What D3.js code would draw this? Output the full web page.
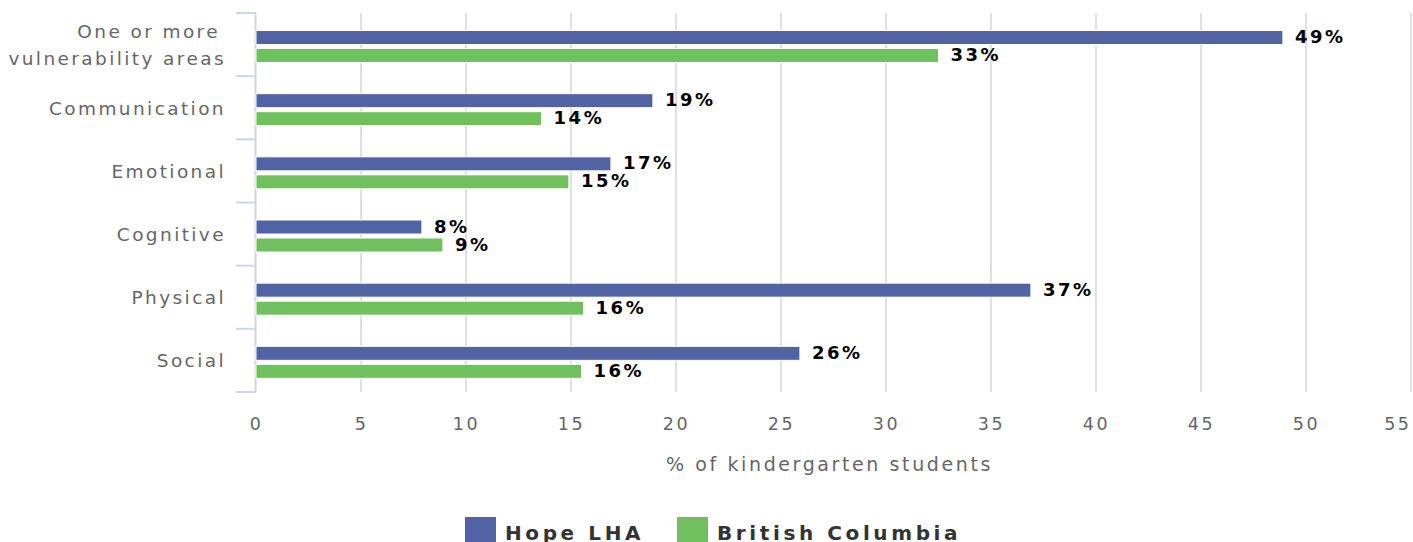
<!DOCTYPE html>
<html>
<head>
<meta charset="utf-8">
<script src="https://cdn.jsdelivr.net/npm/d3@7"></script>
<style>
  body { margin: 0; background: #fff; }
  svg { font-family: "DejaVu Sans", Verdana, sans-serif; }
</style>
</head>
<body>
<script>
// data
var categories = [["One or more", "vulnerability areas"], ["Communication"], ["Emotional"], ["Cognitive"], ["Physical"], ["Social"]];
var seriesNames = ["Hope LHA", "British Columbia"];
var hopeValues = [48.9, 18.9, 16.9, 7.9, 36.9, 25.9];
var bcValues = [32.5, 13.6, 14.9, 8.9, 15.6, 15.5];
var xTicks = [0, 5, 10, 15, 20, 25, 30, 35, 40, 45, 50, 55];
var colors = ["#5263a5", "#71c05f"];

var width = 1413, height = 542;
var plotLeft = 256, plotRight = 1411, plotTop = 13, plotBottom = 392;

var svg = d3.select("body").append("svg")
    .attr("width", width)
    .attr("height", height);

var xMap = d3.scaleLinear().domain([0, 55]).range([plotLeft, plotRight]);
var yMap = d3.scaleBand().domain(d3.range(categories.length)).range([plotTop, plotBottom]);
var bw = yMap.bandwidth();

// grid lines
svg.append("g").selectAll("line")
    .data(xTicks.slice(1))
  .enter().append("line")
    .attr("x1", d => xMap(d)).attr("x2", d => xMap(d))
    .attr("y1", plotTop).attr("y2", plotBottom)
    .attr("stroke", "#e0e0e0")
    .attr("stroke-width", 2);

// x tick labels
var xAxis = d3.axisBottom(xMap).tickValues(xTicks).tickSize(0).tickPadding(0);
var xg = svg.append("g")
    .attr("transform", "translate(0," + (plotBottom + 38) + ")")
    .call(xAxis);
xg.select(".domain").remove();
xg.selectAll("text")
    .attr("dy", 0)
    .attr("y", 0)
    .style("font-family", "DejaVu Sans, sans-serif")
    .style("font-size", "17.5px")
    .style("letter-spacing", "2.5px")
    .attr("fill", "#666");
xg.selectAll(".tick").filter(d => d === 55).select("text")
    .attr("text-anchor", "end")
    .attr("x", 0);

svg.append("text")
    .attr("x", xMap(27.5) - 4)
    .attr("y", 471)
    .attr("text-anchor", "middle")
    .attr("fill", "#666")
    .style("font-size", "19px")
    .style("letter-spacing", "2.6px")
    .text("% of kindergarten students");

// y axis line + ticks
svg.append("line")
    .attr("x1", plotLeft - 0.5).attr("x2", plotLeft - 0.5)
    .attr("y1", plotTop).attr("y2", plotBottom)
    .attr("stroke", "#ccd6eb").attr("stroke-width", 2);
svg.append("g").selectAll("line")
    .data(d3.range(categories.length + 1))
  .enter().append("line")
    .attr("x1", plotLeft - 20).attr("x2", plotLeft)
    .attr("y1", d => plotTop + d * bw).attr("y2", d => plotTop + d * bw)
    .attr("stroke", "#ccd6eb").attr("stroke-width", 2);

// category labels
var cat = svg.append("g").selectAll("text")
    .data(categories)
  .enter().append("text")
    .attr("text-anchor", "end")
    .attr("fill", "#666")
    .style("font-size", "18.5px")
    .style("letter-spacing", "2.4px")
    .attr("transform", (d, i) => "translate(226," + (yMap(i) + bw / 2 + 7) + ")");
cat.selectAll("tspan")
    .data(d => d.map((t, j) => ({t: t, j: j, n: d.length})))
  .enter().append("tspan")
    .attr("x", d => d.j === 0 && d.n > 1 ? -6 : 0)
    .attr("y", d => (d.j - (d.n - 1) / 2) * 27)
    .text(d => d.t);

// bars
var series = [hopeValues, bcValues];
var offsets = [17.5, 35.5];
series.forEach(function(vals, s) {
  var g = svg.append("g");
  g.selectAll("rect")
      .data(vals)
    .enter().append("rect")
      .attr("x", xMap(0))
      .attr("y", (d, i) => yMap(i) + offsets[s])
      .attr("width", d => xMap(d) - xMap(0))
      .attr("height", 14)
      .attr("fill", colors[s])
      .attr("stroke", "#fff")
      .attr("stroke-width", 1);
  g.selectAll("text")
      .data(vals)
    .enter().append("text")
      .attr("x", d => xMap(d) + 12)
      .attr("y", (d, i) => yMap(i) + offsets[s] + 12.5)
      .attr("fill", "#000")
      .style("font-size", "18px")
      .style("font-weight", "bold")
      .style("letter-spacing", "2.5px")
      .text(d => Math.round(d) + "%");
});

// legend
var legendX = [465, 677];
var legend = svg.append("g").selectAll("g")
    .data(seriesNames)
  .enter().append("g")
    .attr("transform", (d, i) => "translate(" + legendX[i] + ",517)");
legend.append("rect")
    .attr("width", 31).attr("height", 25)
    .attr("fill", (d, i) => colors[i]);
legend.append("text")
    .attr("x", 40)
    .attr("y", 23)
    .attr("fill", "#333")
    .style("font-size", "20px")
    .style("font-weight", "bold")
    .style("letter-spacing", "3.6px")
    .text(d => d);
</script>
</body>
</html>
